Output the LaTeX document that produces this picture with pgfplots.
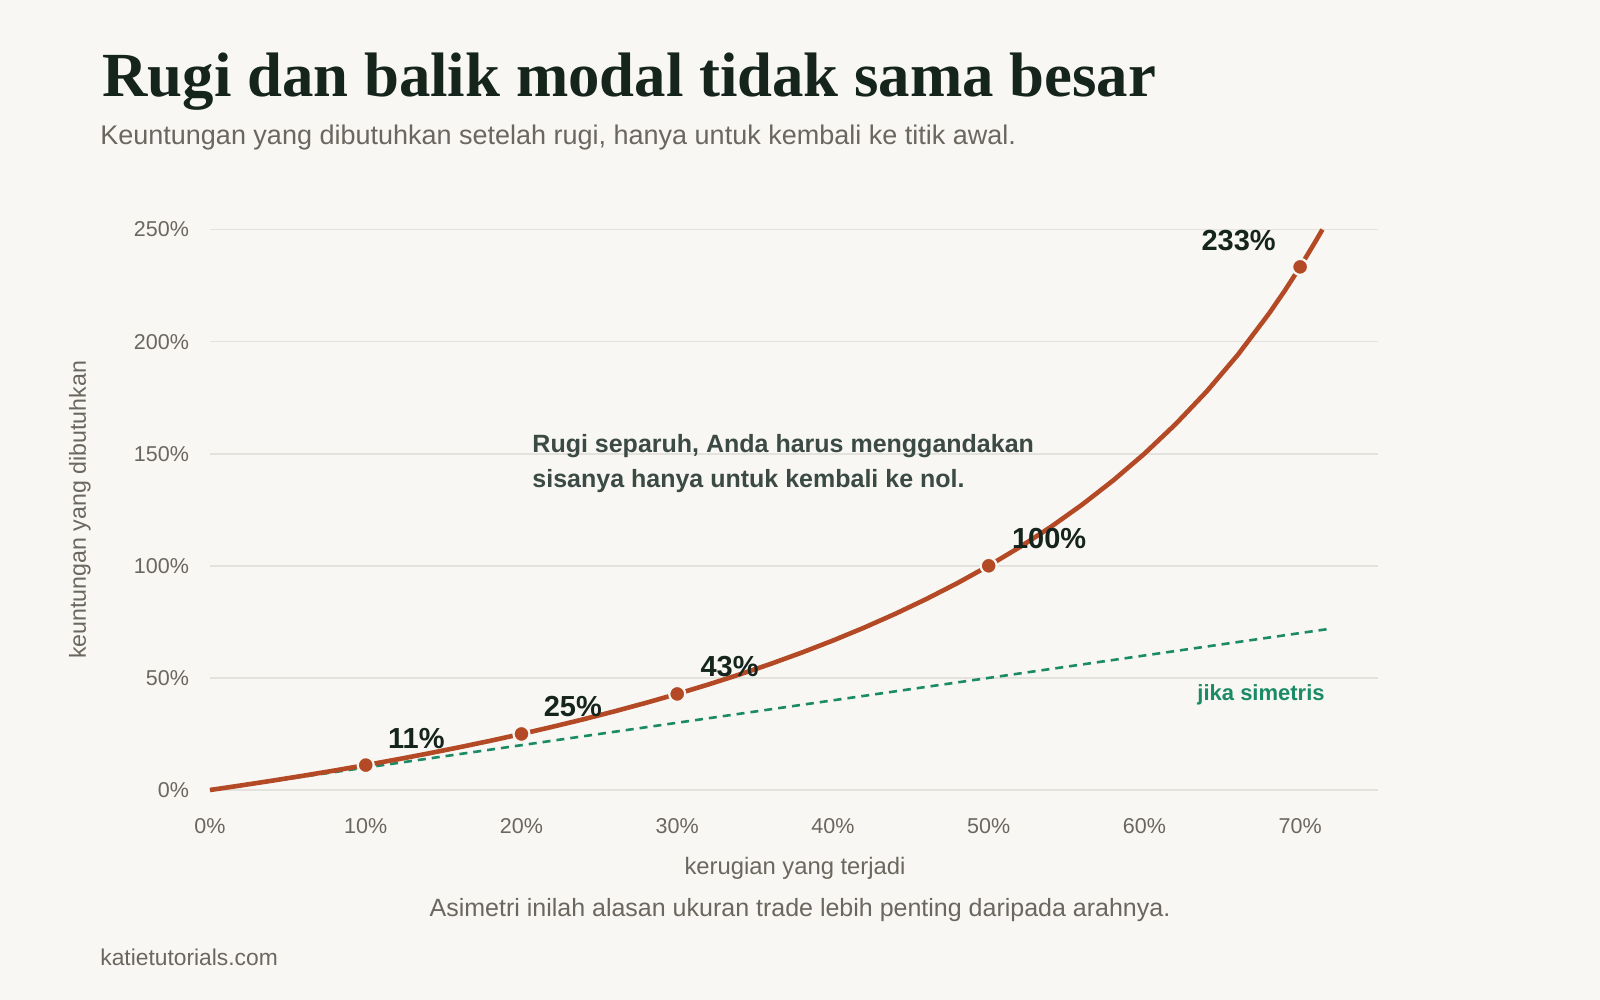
\documentclass[border=0pt]{standalone}
\usepackage{pgfplots}
\pgfplotsset{compat=1.18}
\usepackage{fontspec}
\setmainfont{Liberation Sans}
\newfontfamily\titlefont{Liberation Serif}
\definecolor{bgc}{HTML}{F8F7F3}
\definecolor{ink}{HTML}{16241E}
\definecolor{greytext}{HTML}{6B665F}
\definecolor{slate}{HTML}{3C4A45}
\definecolor{rust}{HTML}{B34A25}
\definecolor{teal}{HTML}{1A8A67}
\definecolor{gridc}{HTML}{E4E2DC}

\begin{document}
\begin{tikzpicture}
  \fill[bgc] (0,0) rectangle (800pt,-500pt);
  \useasboundingbox (0,0) rectangle (800pt,-500pt);

  % titles
  \node[anchor=base west, inner sep=0, text=ink] at (51pt,-48.5pt)
    {\titlefont\bfseries\fontsize{31.4}{36}\selectfont Rugi dan balik modal tidak sama besar};
  \node[anchor=base west, inner sep=0, text=greytext] at (50pt,-72.5pt)
    {\fontsize{13.5}{16}\selectfont Keuntungan yang dibutuhkan setelah rugi, hanya untuk kembali ke titik awal.};

  \begin{axis}[
    at={(105pt,-395pt)}, anchor=south west,
    scale only axis, width=584pt, height=280.25pt,
    xmin=0, xmax=0.75, ymin=0, ymax=2.5,
    clip=false,
    axis line style={draw=none},
    major tick length=0pt,
    ymajorgrids, grid style={gridc, line width=0.8pt},
    xtick={0,0.1,0.2,0.3,0.4,0.5,0.6,0.7},
    xticklabels={0\%,10\%,20\%,30\%,40\%,50\%,60\%,70\%},
    ytick={0,0.5,1,1.5,2,2.5},
    yticklabels={0\%,50\%,100\%,150\%,200\%,250\%},
    tick label style={font=\fontsize{10.75}{12}\selectfont, text=greytext},
    xticklabel shift=10.5pt,
    yticklabel shift=7pt,
  ]
    % symmetric reference
    \addplot[teal, line width=1.3pt, dash pattern=on 4pt off 3pt] coordinates {(0,0) (0.72,0.72)};
    % required gain after loss
    \addplot[rust, line width=2.3pt, line join=round] coordinates {
      (0,0) (0.02,0.020408) (0.04,0.041667) (0.06,0.063830) (0.08,0.086957)
      (0.10,0.111111) (0.12,0.136364) (0.14,0.162791) (0.16,0.190476) (0.18,0.219512)
      (0.20,0.25) (0.22,0.282051) (0.24,0.315789) (0.26,0.351351) (0.28,0.388889)
      (0.30,0.428571) (0.32,0.470588) (0.34,0.515152) (0.36,0.5625) (0.38,0.612903)
      (0.40,0.666667) (0.42,0.724138) (0.44,0.785714) (0.46,0.851852) (0.48,0.923077)
      (0.50,1.0) (0.52,1.083333) (0.54,1.173913) (0.56,1.272727) (0.58,1.380952)
      (0.60,1.5) (0.62,1.631579) (0.64,1.777778) (0.66,1.941176) (0.68,2.125)
      (0.69,2.225806) (0.70,2.333333) (0.71,2.448276) (0.7143,2.5)
    };
    \addplot[only marks, mark=*, mark size=4pt,
      mark options={fill=rust, draw=bgc, line width=1.1pt}] coordinates {
      (0.1,0.111111) (0.2,0.25) (0.3,0.428571) (0.5,1.0) (0.7,2.333333)
    };

    \begin{scope}[every node/.style={text=ink, font=\bfseries\fontsize{14.5}{17}\selectfont, inner sep=0}]
      \node[anchor=base west, xshift=11pt, yshift=8.5pt] at (axis cs:0.1,0.111111) {11\%};
      \node[anchor=base west, xshift=11pt, yshift=8.5pt] at (axis cs:0.2,0.25) {25\%};
      \node[anchor=base west, xshift=11.5pt, yshift=8.5pt] at (axis cs:0.3,0.428571) {43\%};
      \node[anchor=base west, xshift=11.5pt, yshift=8.5pt] at (axis cs:0.5,1.0) {100\%};
      \node[anchor=base east, xshift=-12pt, yshift=8pt] at (axis cs:0.7,2.333333) {233\%};
    \end{scope}

    \node[anchor=base west, inner sep=0, text=slate, font=\bfseries\fontsize{12.5}{15}\selectfont]
      at (axis cs:0.2068,1.506) {Rugi separuh, Anda harus menggandakan};
    \node[anchor=base west, inner sep=0, text=slate, font=\bfseries\fontsize{12.5}{15}\selectfont]
      at (axis cs:0.2068,1.35) {sisanya hanya untuk kembali ke nol.};
    \node[anchor=base east, inner sep=0, text=teal, font=\bfseries\fontsize{11}{13}\selectfont]
      at (axis cs:0.716,0.40) {jika simetris};
  \end{axis}

  % axis titles and footer
  \node[anchor=base, inner sep=0, text=greytext, font=\fontsize{11.9}{14}\selectfont]
    at (397.5pt,-437pt) {kerugian yang terjadi};
  \node[rotate=90, inner sep=0, text=greytext, font=\fontsize{11.6}{14}\selectfont]
    at (40pt,-255pt) {keuntungan yang dibutuhkan};
  \node[anchor=base, inner sep=0, text=greytext, font=\fontsize{12.5}{15}\selectfont]
    at (400pt,-458pt) {Asimetri inilah alasan ukuran trade lebih penting daripada arahnya.};
  \node[anchor=base west, inner sep=0, text=greytext, font=\fontsize{11.4}{14}\selectfont]
    at (50pt,-482.5pt) {katietutorials.com};
\end{tikzpicture}
\end{document}
